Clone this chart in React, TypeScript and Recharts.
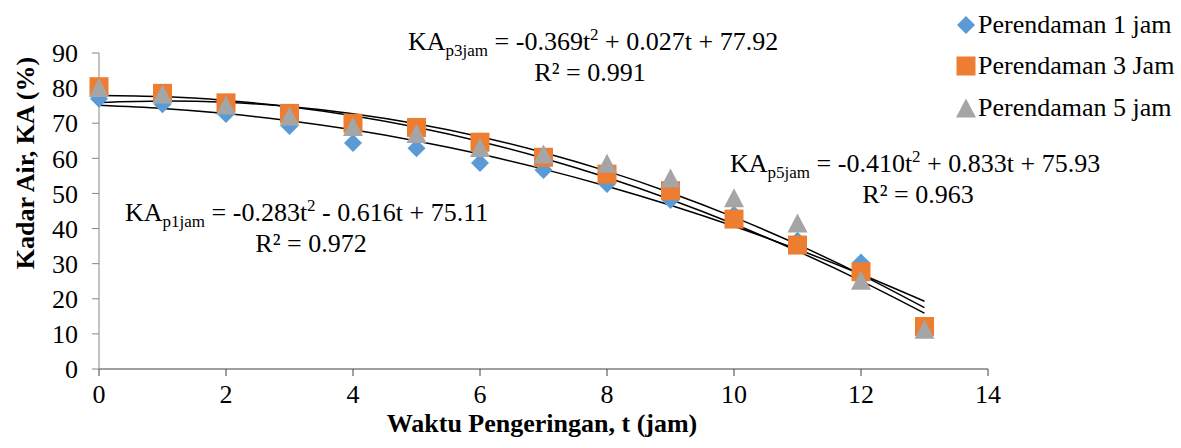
import {
  ComposedChart,
  Scatter,
  Line,
  XAxis,
  YAxis,
  Legend,
  Customized,
} from 'recharts';

// drying time (jam)
const hours = [0, 1, 2, 3, 4, 5, 6, 7, 8, 9, 10, 11, 12, 13];

const soak1 = [77, 75.4, 72.6, 69.2, 64.4, 62.9, 58.7, 56.7, 52.7, 48.1, 43.9, 36.5, 30.3, 11.5];
const soak3 = [80.4, 78.5, 75.8, 72.8, 70, 68.8, 64.6, 60.3, 55.5, 50.8, 42.7, 35.3, 27.7, 12.1];
const soak5 = [80.2, 78.3, 75.2, 72, 69.1, 67.1, 63.1, 61.2, 58.6, 54.4, 48.8, 41.6, 25.3, 11.3];

// polynomial trendline values at each hour (as drawn in the figure)
const trend1 = [75.11, 74.21, 72.75, 70.72, 68.12, 64.96, 61.23, 56.93, 52.07, 46.64, 40.65, 34.09, 26.97, 19.28];
const trend3 = [77.92, 77.58, 76.5, 74.68, 72.12, 68.83, 64.8, 60.03, 54.52, 48.27, 41.29, 33.57, 25.11, 15.91];
const trend5 = [75.93, 76.35, 75.96, 74.74, 72.7, 69.85, 66.17, 61.67, 56.35, 50.22, 43.26, 35.48, 26.89, 17.47];

const xTicks = [0, 2, 4, 6, 8, 10, 12, 14];
const yTicks = [0, 10, 20, 30, 40, 50, 60, 70, 80, 90];

const legendNames = ['Perendaman 1 jam', 'Perendaman 3 Jam', 'Perendaman 5 jam'];

const BLUE = '#5B9BD5';
const ORANGE = '#ED7D31';
const GRAY = '#A5A5A5';
const FONT = '"Liberation Serif", "Times New Roman", serif';

const rows = hours.map((t, i) => ({
  t,
  p1: soak1[i],
  p3: soak3[i],
  p5: soak5[i],
  f1: trend1[i],
  f3: trend3[i],
  f5: trend5[i],
}));

const Diamond = ({ cx, cy }: any) => (
  <path d={`M${cx},${cy - 9}L${cx + 9},${cy}L${cx},${cy + 9}L${cx - 9},${cy}Z`} fill={BLUE} />
);
const Square = ({ cx, cy }: any) => <rect x={cx - 9.5} y={cy - 9.5} width={19} height={19} fill={ORANGE} />;
const Triangle = ({ cx, cy }: any) => (
  <path d={`M${cx},${cy - 9.5}L${cx + 10},${cy + 9.5}L${cx - 10},${cy + 9.5}Z`} fill={GRAY} />
);

const markers = [Diamond, Square, Triangle];

const renderLegend = () => (
  <div style={{ fontFamily: FONT, fontSize: 26, color: '#000' }}>
    {legendNames.map((name, i) => {
      const M = markers[i];
      return (
        <div key={name} style={{ display: 'flex', alignItems: 'center', height: 41.5 }}>
          <svg width={22} height={22} style={{ marginRight: 1 }}>
            <M cx={11} cy={11} />
          </svg>
          <span style={{ whiteSpace: 'nowrap' }}>{name}</span>
        </div>
      );
    })}
  </div>
);

const Equation = ({ x, y, sub, a, b, c }: any) => (
  <text x={x} y={y} fontSize={26} fontFamily={FONT} fill="#000">
    KA
    <tspan fontSize={17} dy={6}>{sub}</tspan>
    <tspan dy={-6}>{` = ${a}t`}</tspan>
    <tspan fontSize={17} dy={-10}>2</tspan>
    <tspan dy={10}>{` ${b}t + ${c}`}</tspan>
  </text>
);

const Notes = () => (
  <g>
    <Equation x={408} y={50} sub="p3jam" a="-0.369" b="+ 0.027" c="77.92" />
    <text x={590} y={81} fontSize={26} fontFamily={FONT} textAnchor="middle">R² = 0.991</text>
    <Equation x={730} y={172} sub="p5jam" a="-0.410" b="+ 0.833" c="75.93" />
    <text x={918} y={203} fontSize={26} fontFamily={FONT} textAnchor="middle">R² = 0.963</text>
    <Equation x={125} y={221} sub="p1jam" a="-0.283" b="- 0.616" c="75.11" />
    <text x={311} y={252} fontSize={26} fontFamily={FONT} textAnchor="middle">R² = 0.972</text>
    <text
      x={34}
      y={163}
      fontSize={26}
      fontWeight="bold"
      fontFamily={FONT}
      textAnchor="middle"
      transform="rotate(-90, 34, 163)"
    >
      Kadar Air, KA (%)
    </text>
    <text x={542} y={432} fontSize={26} fontWeight="bold" fontFamily={FONT} textAnchor="middle">
      Waktu Pengeringan, t (jam)
    </text>
  </g>
);

export default function App() {
  return (
    <div style={{ position: 'absolute', left: 0, top: 0, width: 1181, height: 448, background: '#fff', fontFamily: FONT }}>
      <ComposedChart width={1181} height={448} data={rows} margin={{ top: 53, right: 193, left: 39, bottom: 49 }}>
        <XAxis
          type="number"
          dataKey="t"
          domain={[0, 14]}
          ticks={xTicks}
          height={30}
          tickSize={7}
          tickMargin={9}
          axisLine={{ stroke: '#404040' }}
          tickLine={{ stroke: '#404040' }}
          tick={{ fontSize: 26, fill: '#000', fontFamily: FONT }}
        />
        <YAxis
          type="number"
          domain={[0, 90]}
          ticks={yTicks}
          width={60}
          tickSize={7}
          tickMargin={14}
          axisLine={{ stroke: '#878787' }}
          tickLine={{ stroke: '#878787' }}
          tick={{ fontSize: 26, fill: '#000', fontFamily: FONT }}
        />
        <Legend
          content={renderLegend}
          layout="vertical"
          verticalAlign="middle"
          align="center"
          wrapperStyle={{ left: 955, top: 4, width: 226 }}
        />
        <Scatter dataKey="p1" shape={Diamond} isAnimationActive={false} />
        <Scatter dataKey="p3" shape={Square} isAnimationActive={false} />
        <Scatter dataKey="p5" shape={Triangle} isAnimationActive={false} />
        <Line type="natural" dataKey="f1" stroke="#000" strokeWidth={1.5} dot={false} isAnimationActive={false} />
        <Line type="natural" dataKey="f3" stroke="#000" strokeWidth={1.5} dot={false} isAnimationActive={false} />
        <Line type="natural" dataKey="f5" stroke="#000" strokeWidth={1.5} dot={false} isAnimationActive={false} />
        <Customized component={Notes} />
      </ComposedChart>
    </div>
  );
}
